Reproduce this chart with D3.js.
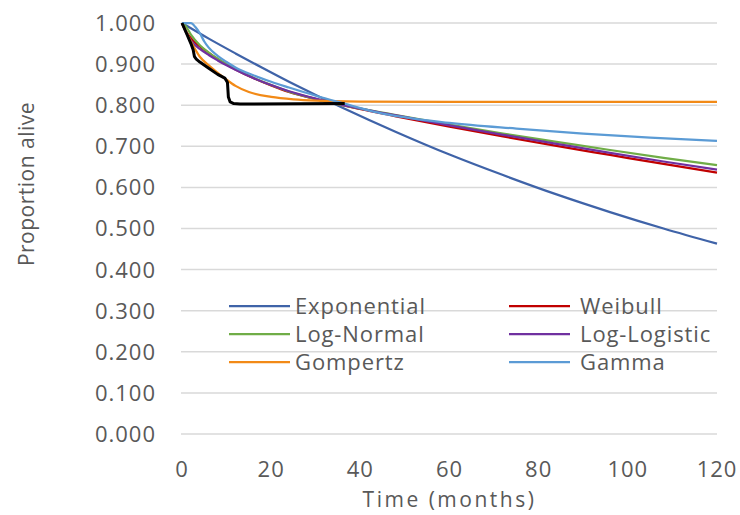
<!DOCTYPE html>
<html>
<head>
<meta charset="utf-8">
<script src="https://cdn.jsdelivr.net/npm/d3@7"></script>
<style>
  body { margin: 0; background: #fff; }
  svg text { font-family: 'Open Sans', sans-serif; fill: #595959; }
</style>
</head>
<body>
<svg id="chart" width="740" height="515"></svg>
<script>
// tick labels
const xTicks = [0, 20, 40, 60, 80, 100, 120];
const yTicks = [0, 0.1, 0.2, 0.3, 0.4, 0.5, 0.6, 0.7, 0.8, 0.9, 1.0];

// fitted curves (month, proportion alive)
const exponential = [[0, 1.0], [6, 0.962], [12, 0.926], [18, 0.891], [24, 0.857], [30, 0.825], [36, 0.794],
  [48, 0.735], [60, 0.680], [72, 0.630], [84, 0.583], [96, 0.540], [108, 0.500], [120, 0.463]];
const weibull = [[0, 1.0], [1, 0.978], [2, 0.963], [4, 0.943], [6, 0.927], [8, 0.912], [10, 0.899], [12, 0.887],
  [16, 0.866], [20, 0.848], [24, 0.832], [30, 0.815], [36, 0.800], [48, 0.773], [60, 0.748], [72, 0.724],
  [84, 0.701], [96, 0.679], [108, 0.657], [120, 0.636]];
const logNormal = [[0, 1.0], [1, 0.99], [2, 0.972], [4, 0.946], [6, 0.928], [8, 0.913], [10, 0.900], [12, 0.888],
  [16, 0.867], [20, 0.849], [24, 0.833], [30, 0.815], [36, 0.800], [48, 0.776], [60, 0.753], [72, 0.731],
  [84, 0.711], [96, 0.691], [108, 0.672], [120, 0.654]];
const logLogistic = [[0, 1.0], [1, 0.975], [2, 0.957], [4, 0.937], [6, 0.922], [8, 0.909], [10, 0.897], [12, 0.886],
  [16, 0.866], [20, 0.849], [24, 0.834], [30, 0.816], [36, 0.801], [48, 0.775], [60, 0.751], [72, 0.728],
  [84, 0.706], [96, 0.684], [108, 0.663], [120, 0.643]];
const gompertz = [[0, 1.0], [2, 0.955], [4, 0.918], [6, 0.897], [8, 0.879], [10, 0.862], [12, 0.847], [15, 0.832],
  [20, 0.820], [25, 0.814], [30, 0.811], [40, 0.809], [60, 0.808], [90, 0.808], [120, 0.808]];
const gamma = [[0, 1.0], [2, 1.0], [3, 0.99], [4, 0.975], [5, 0.955], [6, 0.94], [8, 0.92], [10, 0.905], [12, 0.892],
  [16, 0.873], [20, 0.857], [24, 0.843], [30, 0.823], [36, 0.805], [44, 0.782], [60, 0.757], [75, 0.743],
  [90, 0.731], [105, 0.721], [120, 0.713]];
// observed Kaplan-Meier
const kaplanMeier = [[0, 1.0], [1, 0.975], [2, 0.95], [2.5, 0.935], [2.8, 0.918], [3.2, 0.912], [4, 0.905],
  [6, 0.89], [8, 0.875], [9.6, 0.866], [10.2, 0.855], [10.4, 0.82], [10.8, 0.808], [11.6, 0.804], [13, 0.803],
  [36.5, 0.804]];

const seriesNames = ['Exponential', 'Weibull', 'Log-Normal', 'Log-Logistic', 'Gompertz', 'Gamma'];
const seriesData = [exponential, weibull, logNormal, logLogistic, gompertz, gamma];
const seriesColors = ['#3f63a8', '#c00000', '#70ad47', '#7030a0', '#f28a17', '#5b9bd5'];

const svg = d3.select('#chart');
const x = d3.scaleLinear().domain([0, 120]).range([182, 717]);
const y = d3.scaleLinear().domain([0, 1]).range([434, 23]);

// gridlines
svg.append('g')
  .selectAll('line')
  .data(yTicks)
  .join('line')
  .attr('x1', x(0) - 1)
  .attr('x2', x(120))
  .attr('y1', d => y(d))
  .attr('y2', d => y(d))
  .attr('stroke', '#d9d9d9')
  .attr('stroke-width', 1.5);

// y tick labels
svg.append('g')
  .selectAll('text')
  .data(yTicks)
  .join('text')
  .attr('x', 156)
  .attr('y', d => y(d))
  .attr('dy', '0.36em')
  .attr('text-anchor', 'end')
  .style('font-size', '22px')
  .style('letter-spacing', '1px')
  .text(d => d3.format('.3f')(d));

// x tick labels
svg.append('g')
  .selectAll('text')
  .data(xTicks)
  .join('text')
  .attr('x', d => x(d))
  .attr('y', 477)
  .attr('text-anchor', 'middle')
  .style('font-size', '22px')
  .style('letter-spacing', '1px')
  .text(d => d);

// axis titles
svg.append('text')
  .attr('x', (x(0) + x(120)) / 2)
  .attr('y', 507)
  .attr('text-anchor', 'middle')
  .style('font-size', '21px')
  .style('letter-spacing', '2.5px')
  .text('Time (months)');

svg.append('text')
  .attr('transform', 'translate(27,' + 184 + ')rotate(-90)')
  .attr('dy', '0.35em')
  .attr('text-anchor', 'middle')
  .style('font-size', '21px')
  .style('letter-spacing', '0.5px')
  .text('Proportion alive');

const line1 = d3.line()
  .x(d => x(d[0]))
  .y(d => y(d[1]))
  .curve(d3.curveMonotoneX);

seriesData.forEach(function(data, i) {
  svg.append('path')
    .datum(data)
    .attr('fill', 'none')
    .attr('stroke', seriesColors[i])
    .attr('stroke-width', 2.25)
    .attr('stroke-linejoin', 'round')
    .attr('d', line1);
});

svg.append('path')
  .datum(kaplanMeier)
  .attr('fill', 'none')
  .attr('stroke', '#000')
  .attr('stroke-width', 3)
  .attr('stroke-linejoin', 'round')
  .attr('d', d3.line().x(d => x(d[0])).y(d => y(d[1])));

// legend
const legend = svg.append('g')
  .selectAll('g')
  .data(seriesNames)
  .join('g')
  .attr('transform', (d, i) => 'translate(' + (i % 2 === 0 ? 229 : 509) + ',' + (306 + Math.floor(i / 2) * 28) + ')');

legend.append('line')
  .attr('x1', 0)
  .attr('x2', 61)
  .attr('stroke', (d, i) => seriesColors[i])
  .attr('stroke-width', 2.25);

legend.append('text')
  .attr('x', (d, i) => i % 2 === 0 ? 66 : 71)
  .attr('dy', '0.35em')
  .style('font-size', '22px')
  .style('letter-spacing', '0.9px')
  .text(d => d);
</script>
</body>
</html>
